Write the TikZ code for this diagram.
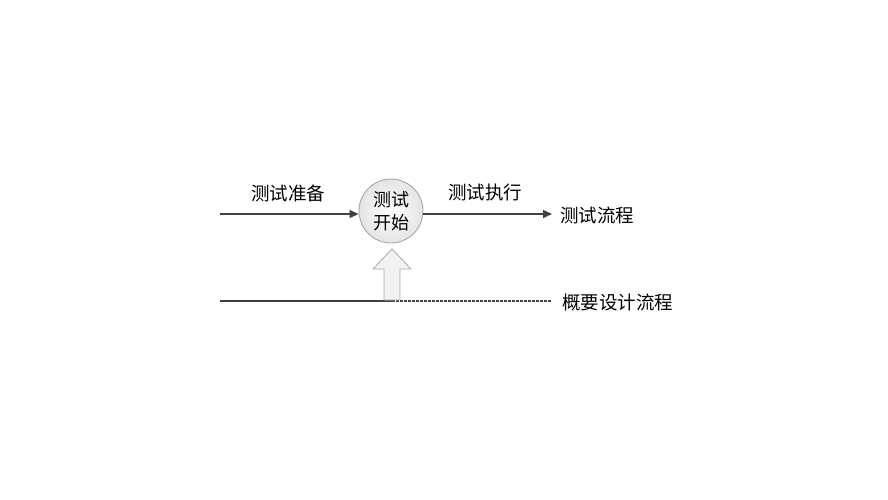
\documentclass[tikz,border=0pt]{standalone}
\usepackage{fontspec}
\newfontfamily\cjk{Noto Sans CJK SC}
\usetikzlibrary{arrows.meta}
\definecolor{linec}{HTML}{404040}
\definecolor{circb}{HTML}{A8A8A8}
\definecolor{circf}{HTML}{F2F2F2}
\definecolor{circo}{HTML}{E4E4E4}
\tikzset{
  flow/.style={draw=linec,line width=1.4pt,-{Triangle[length=9pt,width=8pt]}},
  lbl/.style={font=\cjk\fontsize{18.5}{22}\selectfont,text=black,inner sep=0pt},
  startc/.style={circle,draw=circb,line width=0.9pt,inner color=white,outer color=circo,minimum size=64pt,inner sep=0pt,align=center,font=\cjk\fontsize{18}{23}\selectfont},
  blockarrow/.style={draw=circb,fill=circf,line width=0.8pt,line join=miter},
}
\begin{document}
\begin{tikzpicture}[x=1pt,y=-1pt]
\useasboundingbox (0,0) rectangle (888,500);
\coordinate (l1) at (220,214);
\node[startc] (c) at (391,211) {测试\\开始};
\coordinate (r1) at (552,214);
\node[lbl,anchor=west] (t1) at (560,215) {测试流程};
\node[lbl] (prep) at (288,193) {测试准备};
\node[lbl] (exec) at (485,192) {测试执行};
\draw[flow] (l1) -- (c.west |- l1);
\draw[flow] (c.east |- r1) -- (r1);
% bottom line
\coordinate (b1) at (220,301);
\coordinate (bm) at (392,301);
\coordinate (b2) at (552,301);
\node[lbl,anchor=west] (t2) at (562,302) {概要设计流程};
\draw[linec,line width=1.4pt] (b1) -- (bm);
\draw[linec,line width=1.3pt,dash pattern=on 2.5pt off 1.5pt] (bm) -- (b2);
% block arrow up
\draw[blockarrow] (384,300) -- (384,269) -- (373,269) -- (392,249) -- (411,269) -- (400,269) -- (400,300) -- cycle;
\end{tikzpicture}
\end{document}
